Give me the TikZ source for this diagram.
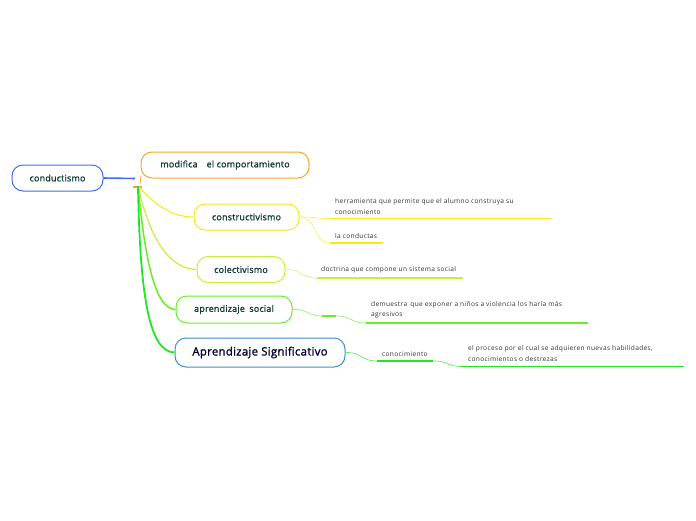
\documentclass[tikz,border=0pt]{standalone}
\usepackage{fontspec}
\setmainfont{Open Sans}
\newfontfamily\topicfont[FakeBold=1.2,LetterSpace=2]{Open Sans}
\newfontfamily\notefont[LetterSpace=5]{Open Sans}
\definecolor{txt}{HTML}{153D38}
\definecolor{cblue}{HTML}{3F6EF0}
\definecolor{corange}{HTML}{F5A52E}
\definecolor{cyellow}{HTML}{F7EA1A}
\definecolor{clime}{HTML}{C8F03A}
\definecolor{cgreen}{HTML}{66EE2A}
\definecolor{csig}{HTML}{3A8FD0}
\definecolor{cbright}{HTML}{22E622}
\definecolor{small}{HTML}{333333}
\tikzset{
  topic/.style={draw, rounded corners=11pt, line width=1pt, fill=white, text=txt, font=\topicfont\fontsize{9}{11}\selectfont, minimum height=26pt, inner xsep=0pt},
  note/.style={anchor=south west, text=small, font=\notefont\fontsize{6.6}{10.5}\selectfont, align=left, inner sep=0pt},
  uline/.style={line width=1.4pt},
}
\begin{document}
\begin{tikzpicture}[x=1pt,y=-1pt]
\useasboundingbox (0,0) rectangle (696,520);
% nodes
\node[topic, draw=cblue, minimum width=91pt] (cond) at (57.5,178) {conductismo};
\node[topic, draw=corange, minimum width=168pt] (mod) at (225,165) {modifica\quad el comportamiento};
\node[topic, draw=cyellow, minimum width=105pt] (cons) at (246.5,217) {constructivismo};
\node[topic, draw=clime, minimum width=88pt] (cole) at (241,269.5) {colectivismo};
\node[topic, draw=cgreen, minimum width=116pt, minimum height=27pt] (apso) at (234,309.5) {aprendizaje\enspace social};
\node[topic, draw=csig, minimum width=170pt, minimum height=29pt, font=\topicfont\fontsize{11.5}{13}\selectfont, text=black!80!blue] (apsig) at (260,352.5) {Aprendizaje Significativo};
% hub
\coordinate (hub) at (138,186);
\draw[cblue, line width=1.6pt] (cond.east) -- (135,178.5);
\draw[corange, line width=1.5pt] (133,187) -- (142,187);
\draw[corange, line width=0.8pt] (140,184) -- (141,176);
\draw[cyellow, line width=1pt] (hub) .. controls (155,205) and (172,217) .. (cons.west);
\draw[clime, line width=1.2pt] (hub) .. controls (150,240) and (170,269) .. (cole.west);
\draw[cgreen, line width=1.5pt] (hub) .. controls (145,260) and (155,309) .. (apso.west);
\draw[cbright, line width=1.8pt] (hub) .. controls (140,300) and (150,352) .. (apsig.west);
% sub notes
\node[note] (n1) at (335,214.5) {herramienta que permite que el alumno construya su\\conocimiento};
\coordinate (u1a) at (330,218.5); \coordinate (u1b) at (552,218.5);
\draw[cyellow, uline] (u1a) -- (u1b);
\draw[cyellow!70, line width=0.7pt] (cons.east) .. controls (318,217) and (315,218.5) .. (u1a);
\node[note] (n2) at (335,238.5) {la conductas};
\coordinate (u2a) at (330,243); \coordinate (u2b) at (383,243);
\draw[cyellow, uline] (u2a) -- (u2b);
\draw[cyellow!70, line width=0.7pt] (cons.east) .. controls (318,217) and (312,243) .. (u2a);
\node[note] (n3) at (321,273.5) {doctrina que compone un sistema social};
\coordinate (u3a) at (317,278); \coordinate (u3b) at (463,278);
\draw[clime, uline] (u3a) -- (u3b);
\draw[clime!70, line width=0.7pt] (cole.east) .. controls (300,269) and (302,278) .. (u3a);
\node[note] (n4) at (371,318.5) {demuestra\enspace que exponer a niños a violencia los haría más\\agresivos};
\coordinate (m4a) at (322,316); \coordinate (m4b) at (336,316);
\coordinate (u4a) at (366,323); \coordinate (u4b) at (588,323);
\draw[cgreen!70, line width=0.7pt] (apso.east) .. controls (308,309) and (308,316) .. (m4a);
\draw[cgreen, uline] (m4a) -- (m4b);
\draw[cgreen!70, line width=0.7pt] (m4b) .. controls (352,316) and (350,323) .. (u4a);
\draw[cgreen, uline] (u4a) -- (u4b);
\node[note] (n5) at (382,356.5) {conocimiento};
\coordinate (u5a) at (377,361); \coordinate (u5b) at (433,361);
\draw[cbright!70, line width=0.7pt] (apsig.east) .. controls (362,352) and (360,361) .. (u5a);
\draw[cbright, uline] (u5a) -- (u5b);
\node[note] (n6) at (468,361.5) {el proceso por el cual se adquieren nuevas habilidades,\\conocimientos o destrezas};
\coordinate (u6a) at (462,366.5); \coordinate (u6b) at (684,366.5);
\draw[cbright!70, line width=0.7pt] (u5b) .. controls (450,361) and (446,366.5) .. (u6a);
\draw[cbright, uline] (u6a) -- (u6b);
\end{tikzpicture}
\end{document}
